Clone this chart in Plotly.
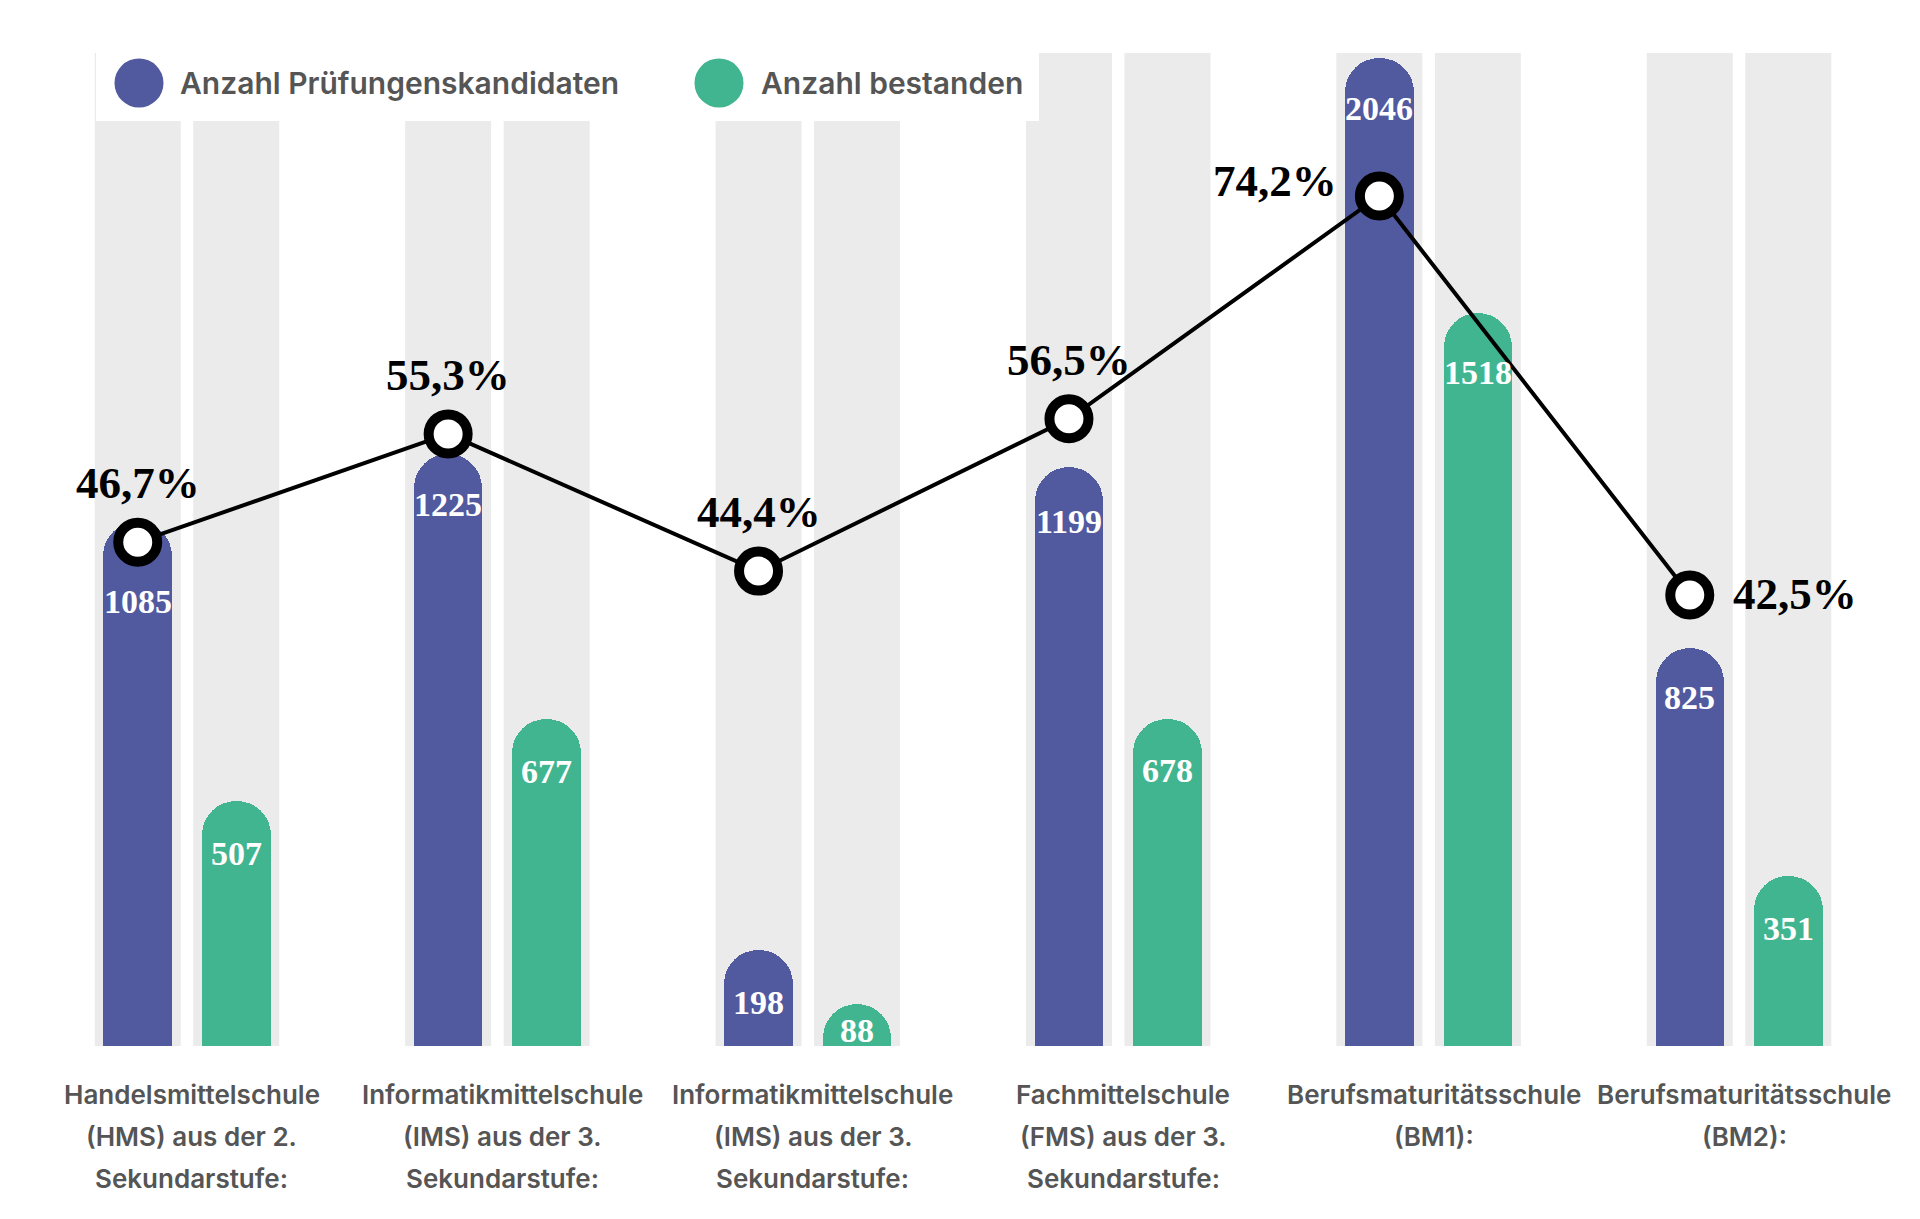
import plotly.graph_objects as go

# ---------------- data ----------------
categories = [
    ["Handelsmittelschule", "(HMS) aus der 2.", "Sekundarstufe:"],
    ["Informatikmittelschule", "(IMS) aus der 3.", "Sekundarstufe:"],
    ["Informatikmittelschule", "(IMS) aus der 3.", "Sekundarstufe:"],
    ["Fachmittelschule", "(FMS) aus der 3.", "Sekundarstufe:"],
    ["Berufsmaturitätsschule", "(BM1):"],
    ["Berufsmaturitätsschule", "(BM2):"],
]
kandidaten = [1085, 1225, 198, 1199, 2046, 825]
bestanden = [507, 677, 88, 678, 1518, 351]
quote = [46.7, 55.3, 44.4, 56.5, 74.2, 42.5]

series_names = ["Anzahl Prüfungenskandidaten", "Anzahl bestanden"]

# ---------------- style ----------------
BLUE = "#525A9F"
GREEN = "#41B590"
TRACK = "#EBEBEB"
TEXT_GRAY = "#555555"
W, H = 1920, 1219
M_T, M_B = 53, 173
PLOT_H = H - M_T - M_B
DX = 0.1587          # offset of each bar from category centre
BAR_W = 0.2207
TRACK_W = 0.2771
X_RANGE = [-0.6024, 5.583]
Y_RANGE = [0, 2055.9]
Y2_RANGE = [6.67, 85.56]
SERIF = "Liberation Serif"
SANS = "Inter"

# label offsets (pixels below bar top) for the value labels
blue_label_shift = [80, 50, 52, 55, 51, 50]
green_label_shift = [52, 52, 27, 52, 60, 52]
# percent label placement
pct_pos = ["above", "above", "above", "above", "left", "right"]
# category label line centres (pixels from top of page)
label_line_y = [1094, 1136, 1178]


def px_x(px):
    return px / W


def px_y(py):
    return (H - M_B - py) / PLOT_H


idx = list(range(len(categories)))
x_blue = [i - DX for i in idx]
x_green = [i + DX for i in idx]

fig = go.Figure()

fig.add_trace(go.Bar(
    x=x_blue, y=kandidaten,
    width=BAR_W, marker=dict(color=BLUE, cornerradius="50%", line=dict(width=0)),
    name=series_names[0], showlegend=False,
    hovertemplate="%{y}<extra>" + series_names[0] + "</extra>",
))
fig.add_trace(go.Bar(
    x=x_green, y=bestanden,
    width=BAR_W, marker=dict(color=GREEN, cornerradius="50%", line=dict(width=0)),
    name=series_names[1], showlegend=False,
    hovertemplate="%{y}<extra>" + series_names[1] + "</extra>",
))
fig.add_trace(go.Scatter(
    x=x_blue, y=quote, yaxis="y2", mode="lines+markers",
    line=dict(color="black", width=4),
    marker=dict(size=39, color="white", line=dict(color="black", width=10)),
    name="Bestehensquote", showlegend=False,
    hovertemplate="%{y:.1f}%<extra></extra>",
))

shapes = []
# background tracks
for xs in (x_blue, x_green):
    for xc in xs:
        shapes.append(dict(type="rect", xref="x", yref="y",
                           x0=xc - TRACK_W / 2, x1=xc + TRACK_W / 2,
                           y0=Y_RANGE[0], y1=Y_RANGE[1],
                           fillcolor=TRACK, line=dict(width=0), layer="below"))
# legend box (white panel covering the tracks)
shapes.append(dict(type="rect", xref="paper", yref="paper",
                   x0=px_x(96), x1=px_x(1039), y0=px_y(121), y1=px_y(50),
                   fillcolor="white", line=dict(width=0), layer="above"))
legend_cx = [139, 719]
legend_tx = [178, 759]
legend_cy = 83
legend_r = 24.5
for cx, col in zip(legend_cx, [BLUE, GREEN]):
    shapes.append(dict(type="circle", xref="paper", yref="paper",
                       x0=px_x(cx - legend_r), x1=px_x(cx + legend_r),
                       y0=px_y(legend_cy + legend_r), y1=px_y(legend_cy - legend_r),
                       fillcolor=col, line=dict(width=0), layer="above"))

annotations = []
for tx, name in zip(legend_tx, series_names):
    annotations.append(dict(xref="paper", yref="paper", x=px_x(tx), y=px_y(legend_cy),
                            xanchor="left", yanchor="middle", showarrow=False,
                            text=name,
                            font=dict(family=SANS, size=30, color=TEXT_GRAY, weight=600)))

# category labels (one annotation per line for the wide line spacing)
cat_font = dict(family=SANS, size=26, color=TEXT_GRAY, weight=600)
for i, lines in zip(idx, categories):
    for line, ly in zip(lines, label_line_y):
        annotations.append(dict(xref="x", yref="paper", x=i, y=px_y(ly), xshift=5,
                                xanchor="center", yanchor="middle", showarrow=False,
                                text=line, font=cat_font))

value_font = dict(family=SERIF, size=34, color="white", weight="bold")
for xs, vals, shifts in ((x_blue, kandidaten, blue_label_shift),
                         (x_green, bestanden, green_label_shift)):
    for xc, v, s in zip(xs, vals, shifts):
        annotations.append(dict(xref="x", yref="y", x=xc, y=v, yshift=-s,
                                xanchor="center", yanchor="middle", showarrow=False,
                                text=str(v), font=value_font))

pct_font = dict(family=SERIF, size=45, color="black", weight="bold")
for xc, q, pos in zip(x_blue, quote, pct_pos):
    txt = f"{q:.1f}".replace(".", ",") + "%"
    a = dict(xref="x", yref="y2", x=xc, y=q, showarrow=False, text=txt, font=pct_font)
    if pos == "above":
        a.update(xanchor="center", yanchor="middle", yshift=59)
    elif pos == "left":
        a.update(xanchor="right", yanchor="middle", xshift=-40, yshift=15)
    else:
        a.update(xanchor="left", yanchor="middle", xshift=41, yshift=1)
    annotations.append(a)

fig.update_layout(
    width=W, height=H,
    margin=dict(l=0, r=0, t=M_T, b=M_B, pad=0),
    paper_bgcolor="white", plot_bgcolor="white",
    barmode="overlay",
    bargap=0,
    showlegend=False,
    shapes=shapes,
    annotations=annotations,
    xaxis=dict(range=X_RANGE, tickmode="array", tickvals=idx, showticklabels=False,
               ticks="", showgrid=False, zeroline=False, showline=False),
    yaxis=dict(range=Y_RANGE, visible=False, showgrid=False, zeroline=False),
    yaxis2=dict(range=Y2_RANGE, overlaying="y", visible=False, showgrid=False, zeroline=False),
)

fig.write_html("out.html", config={"displayModeBar": False},
               post_script="document.body.style.margin='0';")
